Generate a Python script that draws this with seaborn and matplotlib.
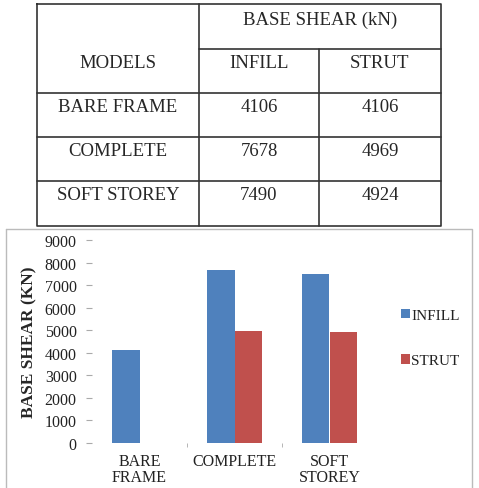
import numpy as np
import pandas as pd
import matplotlib
matplotlib.use("Agg")
import matplotlib.pyplot as plt
import seaborn as sns

# table data
models = ["BARE FRAME", "COMPLETE", "SOFT STOREY"]
table_infill = [4106, 7678, 7490]
table_strut = [4106, 4969, 4924]

# chart data (strut bar for bare frame is not drawn in the chart)
chart_labels = ["BARE\nFRAME", "COMPLETE", "SOFT\nSTOREY"]
chart_infill = [4106, 7678, 7490]
chart_strut = [np.nan, 4969, 4924]

sns.set_style("white")
plt.rcParams['font.family'] = ['Liberation Serif', 'DejaVu Serif']

W, H = 479, 489
fig = plt.figure(figsize=(W / 100, H / 100), dpi=100)

def fx(x):
    return x / W

def fy(y):
    return 1 - y / H

# ---- table drawn in figure pixel coords ----
tab = fig.add_axes([0, 0, 1, 1])
tab.set_xlim(0, W)
tab.set_ylim(H, 0)
tab.axis("off")
cols = [37, 199, 319, 441]
rows = [5, 50, 94, 138, 182, 227]
lc = "#333333"
lw = 1.2
# outer box
tab.plot([cols[0], cols[-1], cols[-1], cols[0], cols[0]],
         [rows[0], rows[0], rows[-1], rows[-1], rows[0]], color=lc, lw=lw)
tab.plot([cols[1], cols[1]], [rows[0], rows[-1]], color=lc, lw=lw)
tab.plot([cols[2], cols[2]], [rows[1], rows[-1]], color=lc, lw=lw)
tab.plot([cols[1], cols[3]], [rows[1], rows[1]], color=lc, lw=lw)
for r in rows[2:-1]:
    tab.plot([cols[0], cols[3]], [r, r], color=lc, lw=lw)

tfs = 13.5
tab.text((cols[1] + cols[3]) / 2, rows[0] + 15, "BASE SHEAR (kN)", ha="center", va="center", fontsize=tfs)
tab.text((cols[0] + cols[1]) / 2, rows[1] + 13, "MODELS", ha="center", va="center", fontsize=tfs)
tab.text((cols[1] + cols[2]) / 2, rows[1] + 13, "INFILL", ha="center", va="center", fontsize=tfs)
tab.text((cols[2] + cols[3]) / 2, rows[1] + 13, "STRUT", ha="center", va="center", fontsize=tfs)
for i, m in enumerate(models):
    y = rows[2 + i] + 13
    tab.text((cols[0] + cols[1]) / 2, y, m, ha="center", va="center", fontsize=tfs)
    tab.text((cols[1] + cols[2]) / 2, y, str(table_infill[i]), ha="center", va="center", fontsize=tfs)
    tab.text((cols[2] + cols[3]) / 2, y, str(table_strut[i]), ha="center", va="center", fontsize=tfs)

# chart frame
tab.plot([6, 472, 472], [230, 230, H], color="#bbbbbb", lw=1)
tab.plot([6, 6], [230, H], color="#bbbbbb", lw=1)

# ---- bar chart ----
df = pd.DataFrame({
    "model": chart_labels * 2,
    "series": ["INFILL"] * 3 + ["STRUT"] * 3,
    "value": chart_infill + chart_strut,
})
ax = fig.add_axes([fx(92), fy(444), fx(377 - 92), (444 - 241) / H])
sns.barplot(data=df, x="model", y="value", hue="series", ax=ax,
            palette=["#4f81bd", "#c0504d"], width=0.57, saturation=1,
            edgecolor="none")
ax.set_xlim(-0.5, 2.5)
ax.set_ylim(0, 9000)
ax.set_yticks(np.arange(0, 9001, 1000))
ax.set_xlabel("")
ax.set_ylabel("BASE SHEAR (KN)", fontsize=12.5, fontweight="bold", labelpad=5)
for s in ["top", "right", "left", "bottom"]:
    ax.spines[s].set_visible(False)
ax.tick_params(axis="y", length=4, color="#aaaaaa", labelsize=11.5, pad=7, left=True,
               labelcolor="#222222")
ax.tick_params(axis="x", length=0, labelsize=11.5, pad=7, labelcolor="#222222")
ax.set_xticks([0.5, 1.5], minor=True)
ax.tick_params(axis="x", which="minor", length=3, color="#aaaaaa", bottom=True)
for t in ax.get_xticklabels():
    t.set_linespacing(1.0)
ax.get_legend().remove()
handles, labels = ax.get_legend_handles_labels()
fig.legend(handles, labels, loc="center left", bbox_to_anchor=(fx(387), fy(339)),
           frameon=False, fontsize=11, labelspacing=2.1, handlelength=0.6,
           handleheight=0.6, handletextpad=0.1, labelcolor="#222222")

fig.savefig("out.png", dpi=100)
